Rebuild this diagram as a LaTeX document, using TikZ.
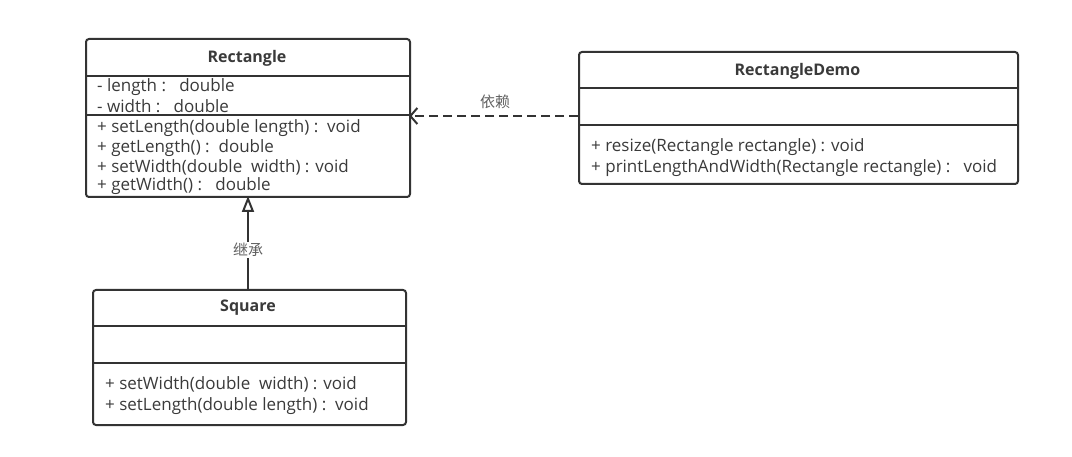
\documentclass[tikz,border=0pt]{standalone}
\usepackage{fontspec}
\setmainfont{Open Sans}
\newfontfamily\cjk{Noto Sans CJK SC}
\usetikzlibrary{arrows.meta}
\definecolor{ink}{HTML}{333333}
\definecolor{txt}{HTML}{3A3A3A}
\tikzset{
  classbox/.style={draw=ink, line width=2pt, rounded corners=3pt, anchor=north west, inner sep=0pt},
  sep/.style={draw=ink, line width=2pt},
  title/.style={font=\fontsize{16}{18}\selectfont\bfseries, text=txt, inner sep=0pt},
  member/.style={font=\fontsize{17}{19}\selectfont, text=txt, anchor=west, inner sep=0pt},
  lbl/.style={font=\cjk\fontsize{15}{17}\selectfont, text=txt!80, inner sep=1pt, fill=white},
  conn/.style={draw=ink, line width=2pt}
}
\begin{document}
\begin{tikzpicture}[x=1pt,y=-1pt]
\useasboundingbox (0,0) rectangle (1072,457);
% Rectangle
\node[classbox, minimum width=324pt, minimum height=158pt] (rect) at (85,38) {};
\draw[sep] (85,76) -- (409,76);
\draw[sep] (85,115.5) -- (409,115.5);
\node[title] (rectT) at (247,58) {Rectangle};
\node[member] (r1) at (97,87) {- length :\ \ \ double};
\node[member] (r2) at (97,106) {- width :\ \ \ double};
\node[member] (r3) at (97,128) {+ setLength(double length) :\ \ void};
\node[member] (r4) at (97,148) {+ getLength() :\ \ double};
\node[member] (r5) at (97,167) {+ setWidth(double\ \ width) : void};
\node[member] (r6) at (97,186) {+ getWidth() :\ \ \ double};
% RectangleDemo
\node[classbox, minimum width=439pt, minimum height=132pt] (demo) at (578,51) {};
\draw[sep] (578,88) -- (1017,88);
\draw[sep] (578,125) -- (1017,125);
\node[title] (demoT) at (797.5,71) {RectangleDemo};
\node[member] (d1) at (591,147) {+ resize(Rectangle rectangle) : void};
\node[member] (d2) at (591,168) {+ printLengthAndWidth(Rectangle rectangle) :\ \ \ void};
% Square
\node[classbox, minimum width=313pt, minimum height=135pt] (sq) at (92,289) {};
\draw[sep] (92,326) -- (405,326);
\draw[sep] (92,363) -- (405,363);
\node[title] (sqT) at (248,308) {Square};
\node[member] (s1) at (105,384) {+ setWidth(double\ \ width) : void};
\node[member] (s2) at (105,406) {+ setLength(double length) :\ \ void};
% connectors
\coordinate (inhS) at (248,289);
\coordinate (inhE) at (248,196);
\draw[conn, -{Triangle[open, width=12pt, length=16pt, line width=2pt]}] (inhS) -- (inhE);
\node[lbl] (inhL) at (248,250) {继承};
\coordinate (depS) at (578,116);
\coordinate (depE) at (409,116);
\draw[conn, dashed, dash pattern=on 9pt off 5pt, -{Straight Barb[length=7pt, width=16pt, line width=2pt]}] (depS) -- (depE);
\node[lbl, fill=none] (depL) at (495,102) {依赖};
\end{tikzpicture}
\end{document}
